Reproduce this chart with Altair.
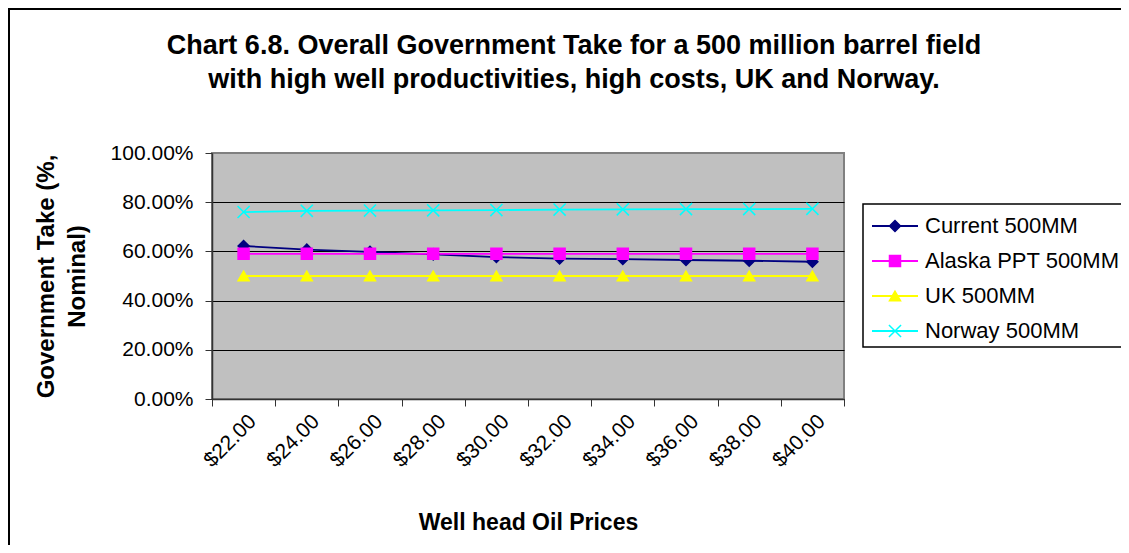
import altair as alt
import pandas as pd

# ---- data ----
prices = ["$22.00", "$24.00", "$26.00", "$28.00", "$30.00",
          "$32.00", "$34.00", "$36.00", "$38.00", "$40.00"]
series_names = ["Current 500MM", "Alaska PPT 500MM", "UK 500MM", "Norway 500MM"]
current = [0.622, 0.607, 0.598, 0.588, 0.577, 0.571, 0.569, 0.565, 0.562, 0.558]
alaska = [0.590, 0.590, 0.590, 0.590, 0.590, 0.590, 0.590, 0.590, 0.590, 0.590]
uk = [0.500, 0.500, 0.500, 0.500, 0.500, 0.500, 0.500, 0.500, 0.500, 0.500]
norway = [0.760, 0.765, 0.766, 0.767, 0.768, 0.770, 0.771, 0.772, 0.772, 0.773]
y_ticks = [0.0, 0.2, 0.4, 0.6, 0.8, 1.0]

title_lines = ["Chart 6.8. Overall Government Take for a 500 million barrel field",
               "with high well productivities,  high costs,  UK and Norway."]
y_title = ["Government Take (%,", "Nominal)"]
x_title = "Well head Oil Prices"

# ---- styles ----
colors = ["#000080", "#FF00FF", "#FFFF00", "#00FFFF"]
fills = ["#000080", "#FF00FF", "#FFFF00", "transparent"]
shapes = ["diamond", "square", "triangle-up", "M-1.1,-1.1L1.1,1.1M-1.1,1.1L1.1,-1.1"]
FONT = "Liberation Sans"
W, H = 632, 246

rows = []
for name, vals in zip(series_names, [current, alaska, uk, norway]):
    for p, v in zip(prices, vals):
        rows.append({"price": p, "series": name, "value": v})
df = pd.DataFrame(rows)
legend_df = pd.DataFrame({"series": series_names, "idx": list(range(len(series_names)))})
title_df = pd.DataFrame({"line": title_lines, "idx": [0, 1]})

cscale = alt.Scale(domain=series_names, range=colors)
fscale = alt.Scale(domain=series_names, range=fills)
sscale = alt.Scale(domain=series_names, range=shapes)

xenc = alt.X(
    "price:N", sort=prices, bandPosition=0.5,
    scale=alt.Scale(type="band", domain=prices, paddingInner=0, paddingOuter=0),
    axis=alt.Axis(
        title=x_title, labelAngle=-45, labelAlign="right", labelBaseline="middle",
        labelFontSize=21, labelPadding=12, labelOffset=9, tickBand="extent",
        tickSize=7, tickColor="#333333", domainColor="#333333", domainWidth=1.5,
        titleFontSize=23, titleFontWeight="bold", titleX=W / 2, titleY=123,
        titleBaseline="middle", titleAlign="center", grid=False,
    ),
)
yenc = alt.Y(
    "value:Q",
    scale=alt.Scale(domain=[0, 1], nice=False),
    axis=alt.Axis(
        title=y_title, format=".2%", values=y_ticks, labelFontSize=21,
        labelPadding=12, tickSize=7, tickColor="#333333", domainColor="#333333",
        domainWidth=1.5, grid=True,
        gridColor=alt.condition("datum.value >= 1", alt.value("#808080"), alt.value("black")),
        gridWidth=1, titleFontSize=24, titleFontWeight="bold", titleAngle=-90,
        titleX=-166, titleY=H / 2, titleAlign="center", titleBaseline="middle",
        titleLineHeight=31,
    ),
)

lines = alt.Chart(df).mark_line(strokeWidth=1.8).encode(
    x=xenc, y=yenc,
    color=alt.Color("series:N", scale=cscale, legend=None),
)
points = alt.Chart(df).mark_point(opacity=1, size=121, strokeWidth=1.5).encode(
    x=xenc, y=yenc,
    shape=alt.Shape("series:N", scale=sscale, legend=None),
    fill=alt.Fill("series:N", scale=fscale, legend=None),
    stroke=alt.Stroke("series:N", scale=cscale, legend=None),
)

# ---- hand-built legend (line + marker like the reference) ----
leg_base = alt.Chart(legend_df).transform_calculate(ly="73 + datum.idx * 35")
box = alt.Chart(pd.DataFrame({"k": [0]})).mark_rect(
    fill="white", stroke="black", strokeWidth=1.5
).encode(x=alt.value(651), x2=alt.value(930), y=alt.value(51), y2=alt.value(194))
leg_rules = leg_base.mark_rule(strokeWidth=1.8).encode(
    x=alt.value(660), x2=alt.value(706),
    y=alt.Y("ly:Q", scale=None, axis=None),
    color=alt.Color("series:N", scale=cscale, legend=None),
)
leg_pts = leg_base.mark_point(opacity=1, size=121, strokeWidth=1.5).encode(
    x=alt.value(683),
    y=alt.Y("ly:Q", scale=None, axis=None),
    shape=alt.Shape("series:N", scale=sscale, legend=None),
    fill=alt.Fill("series:N", scale=fscale, legend=None),
    stroke=alt.Stroke("series:N", scale=cscale, legend=None),
)
leg_text = leg_base.mark_text(
    align="left", baseline="middle", font=FONT, fontSize=22, color="black"
).encode(
    x=alt.value(713),
    y=alt.Y("ly:Q", scale=None, axis=None),
    text="series:N",
)

# ---- chart title as text (two lines) ----
title_txt = alt.Chart(title_df).transform_calculate(ty="-107 + datum.idx * 34").mark_text(
    align="center", baseline="middle", font=FONT, fontSize=27, fontWeight="bold", color="black"
).encode(
    x=alt.value(362),
    y=alt.Y("ty:Q", scale=None, axis=None),
    text="line:N",
)

border = alt.Chart(pd.DataFrame({"k": [0]})).mark_rect(
    fillOpacity=0, stroke="black", strokeWidth=2
).encode(x=alt.value(-203), x2=alt.value(1000), y=alt.value(-144), y2=alt.value(600))

chart = alt.layer(lines, points, box, leg_rules, leg_pts, leg_text, title_txt, border).properties(
    width=W, height=H,
    autosize=alt.AutoSizeParams(type="none"),
    padding={"left": 204, "top": 145, "right": 277, "bottom": 146},
    background="white",
).configure_view(
    fill="#C0C0C0", stroke="#808080", strokeWidth=2
).configure_axis(
    labelFont=FONT, titleFont=FONT, labelColor="black", titleColor="black"
)

chart.save("out.html", embed_options={"renderer": "svg", "actions": False})
